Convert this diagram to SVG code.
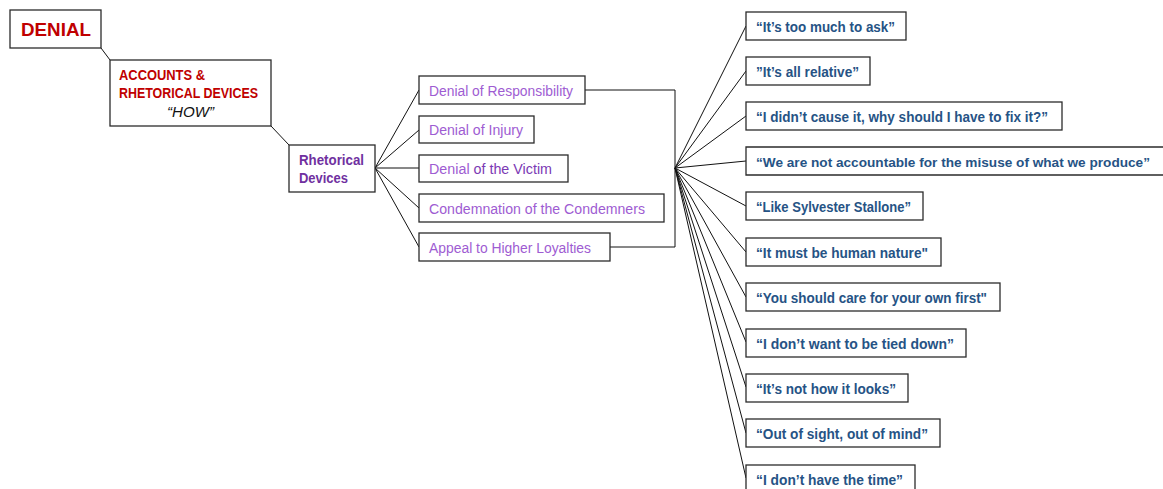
<svg xmlns="http://www.w3.org/2000/svg" width="1163" height="489" viewBox="0 0 1163 489">
<style>
.box{fill:#fff;stroke:#2b2b2b;stroke-width:1.3}
.con{fill:none;stroke:#111;stroke-width:1}
.red{font-family:"Liberation Sans",Arial,sans-serif;font-weight:bold;fill:#C00000}
.pur{font-family:"Liberation Sans",Arial,sans-serif;font-weight:bold;font-size:14px;fill:#7030A0}
.dev{font-family:"Liberation Sans",Arial,sans-serif;font-size:15.5px;fill:#9E5CD2}
.q{font-family:"Liberation Sans",Arial,sans-serif;font-weight:bold;font-size:14.5px;fill:#265385}
</style>
<rect width="1163" height="489" fill="#fff"/>
<g id="connectors">
<line class="con" x1="101" y1="48" x2="110" y2="60"/>
<line class="con" x1="271" y1="126" x2="289" y2="145"/>
<line class="con" x1="375" y1="168" x2="419" y2="90"/>
<line class="con" x1="375" y1="168" x2="419" y2="130"/>
<line class="con" x1="375" y1="168" x2="419" y2="168"/>
<line class="con" x1="375" y1="168" x2="419" y2="208"/>
<line class="con" x1="375" y1="168" x2="419" y2="247"/>
<path class="con" d="M585,90 H675 V247 H610"/>
<line class="con" x1="675" y1="168" x2="746" y2="26"/>
<line class="con" x1="675" y1="168" x2="746" y2="71"/>
<line class="con" x1="675" y1="168" x2="746" y2="116"/>
<line class="con" x1="675" y1="168" x2="746" y2="161"/>
<line class="con" x1="675" y1="168" x2="746" y2="206"/>
<line class="con" x1="675" y1="168" x2="746" y2="252"/>
<line class="con" x1="675" y1="168" x2="746" y2="297"/>
<line class="con" x1="675" y1="168" x2="746" y2="342"/>
<line class="con" x1="675" y1="168" x2="746" y2="387"/>
<line class="con" x1="675" y1="168" x2="746" y2="433"/>
<line class="con" x1="675" y1="168" x2="746" y2="478"/>
</g>
<g id="denial">
<rect class="box" x="10" y="10" width="91" height="38"/>
<text class="red" x="21" y="36" font-size="19" textLength="70" lengthAdjust="spacingAndGlyphs">DENIAL</text>
</g>
<g id="accounts">
<rect class="box" x="110" y="60" width="161" height="66"/>
<text class="red" x="119" y="80" font-size="14" textLength="86" lengthAdjust="spacingAndGlyphs">ACCOUNTS &amp;</text>
<text class="red" x="119" y="98" font-size="14" textLength="139" lengthAdjust="spacingAndGlyphs">RHETORICAL DEVICES</text>
<text x="167" y="117" font-family="Liberation Sans, Arial, sans-serif" font-style="italic" font-size="14" fill="#111" textLength="47" lengthAdjust="spacingAndGlyphs">“HOW”</text>
</g>
<g id="rhetorical">
<rect class="box" x="289" y="145" width="86" height="47"/>
<text class="pur" x="299" y="165" textLength="65" lengthAdjust="spacingAndGlyphs">Rhetorical</text>
<text class="pur" x="299" y="183" textLength="49" lengthAdjust="spacingAndGlyphs">Devices</text>
</g>
<g id="dev1">
<rect class="box" x="419" y="76" width="166" height="28"/>
<text class="dev" x="429" y="95.5" textLength="144" lengthAdjust="spacingAndGlyphs">Denial of Responsibility</text>
</g>
<g id="dev2">
<rect class="box" x="419" y="116" width="115" height="27"/>
<text class="dev" x="429" y="135" textLength="94" lengthAdjust="spacingAndGlyphs">Denial of Injury</text>
</g>
<g id="dev3">
<rect class="box" x="419" y="155" width="149" height="27"/>
<text class="dev" x="429" y="174" textLength="123" lengthAdjust="spacingAndGlyphs">Denial <tspan fill="#7B3AB4">of the Victim</tspan></text>
</g>
<g id="dev4">
<rect class="box" x="419" y="194" width="245" height="28"/>
<text class="dev" x="429" y="213.5" textLength="216" lengthAdjust="spacingAndGlyphs">Condemnation of the Condemners</text>
</g>
<g id="dev5">
<rect class="box" x="419" y="233" width="191" height="28"/>
<text class="dev" x="429" y="252.5" textLength="162" lengthAdjust="spacingAndGlyphs">Appeal to Higher Loyalties</text>
</g>
<g id="q1">
<rect class="box" x="746" y="12" width="160" height="28"/>
<text class="q" x="756" y="31.5" textLength="139" lengthAdjust="spacingAndGlyphs">“It’s too much to ask”</text>
</g>
<g id="q2">
<rect class="box" x="746" y="57" width="124" height="28"/>
<text class="q" x="756" y="76.5" textLength="103" lengthAdjust="spacingAndGlyphs">”It’s all relative”</text>
</g>
<g id="q3">
<rect class="box" x="746" y="102" width="316" height="28"/>
<text class="q" x="756" y="121.5" textLength="292" lengthAdjust="spacingAndGlyphs">“I didn’t cause it, why should I have to fix it?”</text>
</g>
<g id="q4">
<rect x="746" y="147" width="417" height="28" fill="#fff"/>
<path d="M1163,147 H746 V175 H1163" fill="none" stroke="#2b2b2b" stroke-width="1.3"/>
<text class="q" x="756" y="166.5" font-size="13.6" style="font-size:13.6px" textLength="394" lengthAdjust="spacingAndGlyphs">“We are not accountable for the misuse of what we produce”</text>
</g>
<g id="q5">
<rect class="box" x="746" y="192" width="177" height="28"/>
<text class="q" x="756" y="211.5" textLength="155" lengthAdjust="spacingAndGlyphs">“Like Sylvester Stallone”</text>
</g>
<g id="q6">
<rect class="box" x="746" y="238" width="195" height="28"/>
<text class="q" x="756" y="257.5" textLength="172" lengthAdjust="spacingAndGlyphs">“It must be human nature"</text>
</g>
<g id="q7">
<rect class="box" x="746" y="283" width="254" height="28"/>
<text class="q" x="756" y="302.5" textLength="231" lengthAdjust="spacingAndGlyphs">“You should care for your own first"</text>
</g>
<g id="q8">
<rect class="box" x="746" y="329" width="220" height="28"/>
<text class="q" x="756" y="348.5" textLength="198" lengthAdjust="spacingAndGlyphs">“I don’t want to be tied down”</text>
</g>
<g id="q9">
<rect class="box" x="746" y="374" width="162" height="28"/>
<text class="q" x="756" y="393.5" textLength="140" lengthAdjust="spacingAndGlyphs">“It’s not how it looks”</text>
</g>
<g id="q10">
<rect class="box" x="746" y="419" width="194" height="28"/>
<text class="q" x="756" y="438.5" textLength="172" lengthAdjust="spacingAndGlyphs">“Out of sight, out of mind”</text>
</g>
<g id="q11">
<rect class="box" x="746" y="465" width="169" height="28"/>
<text class="q" x="756" y="484.5" textLength="147" lengthAdjust="spacingAndGlyphs">“I don’t have the time”</text>
</g>
</svg>
